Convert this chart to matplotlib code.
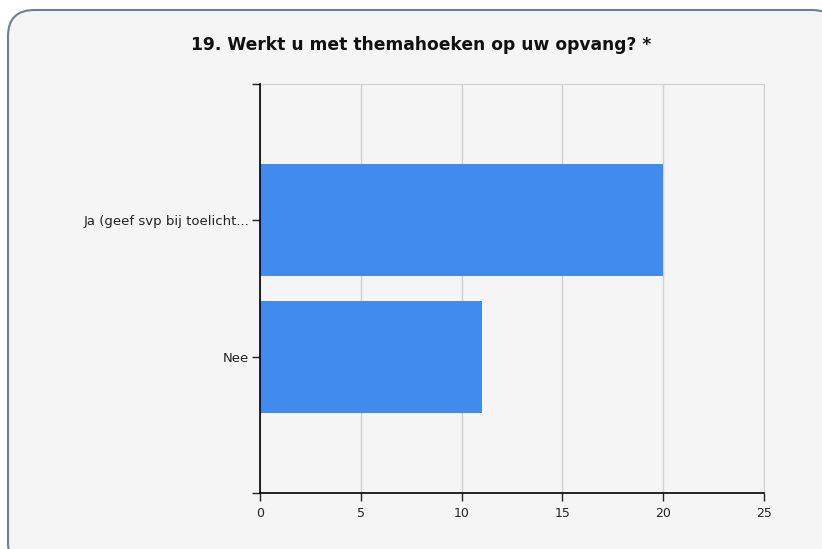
import matplotlib.pyplot as plt
from matplotlib.patches import FancyBboxPatch

# data
categories = ['Ja (geef svp bij toelicht...', 'Nee']
values = [20, 11]
x_ticks = [0, 5, 10, 15, 20, 25]
title = '19. Werkt u met themahoeken op uw opvang? *'

plt.rcParams['font.family'] = ['DejaVu Sans']

fig = plt.figure(figsize=(8.22, 5.49), dpi=100)
fig.patch.set_facecolor('white')

# rounded card behind the chart
card = FancyBboxPatch((8 / 822, -20 / 549), 830 / 822, 559 / 549,
                      boxstyle='round,pad=0,rounding_size=0.032',
                      transform=fig.transFigure, facecolor='#f5f5f5',
                      edgecolor='#6e7d99', linewidth=1.5,
                      mutation_aspect=822 / 549, zorder=-10)
fig.patches.append(card)

ax = fig.add_axes([260 / 822, 1 - 493 / 549, 504 / 822, 409 / 549])
ax.set_facecolor('none')

pos = list(range(len(categories)))
ax.barh(pos, values, height=0.82, color='#418bee', zorder=3)

ax.set_xlim(0, 25)
ax.set_ylim(2, -1)
ax.set_xticks(x_ticks)
ax.set_yticks([-1] + pos + [2])
ax.set_yticklabels([''] + categories + [''])

ax.grid(axis='x', color='#d0d0d0', linewidth=1, zorder=0)
for s in ['top', 'right']:
    ax.spines[s].set_color('#d0d0d0')
for s in ['left', 'bottom']:
    ax.spines[s].set_color('black')
    ax.spines[s].set_linewidth(1.2)
    ax.spines[s].set_zorder(4)

ax.tick_params(axis='both', length=6, width=1, color='#222222', labelcolor='#222222')
ax.tick_params(axis='y', pad=2, labelsize=9.5)
ax.tick_params(axis='x', pad=4, labelsize=9)

fig.text(421 / 822, 1 - 45 / 549, title, ha='center', va='center',
         fontsize=12.3, fontweight='bold', color='#111111')

fig.savefig('out.png', dpi=100)
